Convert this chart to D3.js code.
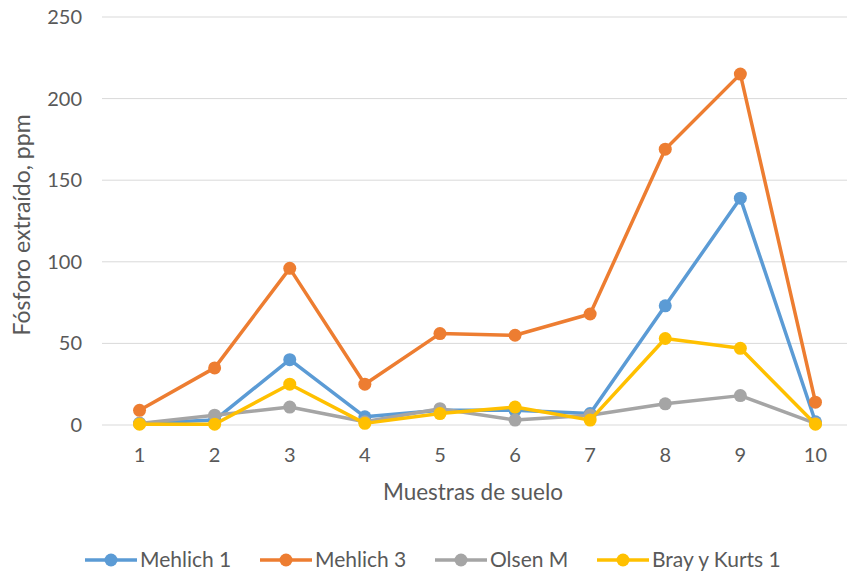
<!DOCTYPE html>
<html><head><meta charset="utf-8">
<script src="https://cdn.jsdelivr.net/npm/d3@7"></script>
<style>body{margin:0;background:#fff;} svg{display:block;}</style>
</head><body>
<svg id="c" width="847" height="575"></svg>
<script>
const categories = ["1","2","3","4","5","6","7","8","9","10"];
const mehlich1 = [1, 3, 40, 5, 9, 9, 7, 73, 139, 2];
const mehlich3 = [9, 35, 96, 25, 56, 55, 68, 169, 215, 14];
const olsenM = [1, 6, 11, 2, 10, 3, 6, 13, 18, 1];
const brayKurts1 = [0.5, 0.5, 25, 1, 7, 11, 3, 53, 47, 0.5];
const seriesNames = ["Mehlich 1", "Mehlich 3", "Olsen M", "Bray y Kurts 1"];
const yTicks = [0, 50, 100, 150, 200, 250];

const colors = ["#5B9BD5", "#ED7D31", "#A5A5A5", "#FFC000"];
const seriesData = [mehlich1, mehlich3, olsenM, brayKurts1];
const font = "Lato, 'Open Sans', sans-serif";
const textColor = "#595959";

const svg = d3.select("#c");
const mLeft = 102, mRight = 853, mTop = 17, mBottom = 425;
const x = d3.scaleBand().domain(categories).range([mLeft, mRight]).padding(0);
const y = d3.scaleLinear().domain([0, 250]).range([mBottom, mTop]);
const cx = c => x(c) + x.bandwidth() / 2;

// gridlines
svg.append("g").selectAll("line").data(yTicks).join("line")
  .attr("x1", mLeft).attr("x2", 847)
  .attr("y1", d => y(d)).attr("y2", d => y(d))
  .attr("stroke", "#d9d9d9").attr("stroke-width", 1);

// y tick labels
svg.append("g").selectAll("text").data(yTicks).join("text")
  .attr("x", 82).attr("y", d => y(d)).attr("dy", "0.35em")
  .attr("text-anchor", "end").attr("font-family", font).attr("font-size", 20)
  .attr("fill", textColor).text(d => d);

// x tick labels
svg.append("g").selectAll("text").data(categories).join("text")
  .attr("x", d => cx(d)).attr("y", 462)
  .attr("text-anchor", "middle").attr("font-family", font).attr("font-size", 20)
  .attr("fill", textColor).text(d => d);

// axis titles
svg.append("text").attr("x", 473).attr("y", 500).attr("text-anchor", "middle")
  .attr("font-family", font).attr("font-size", 22.5).attr("fill", textColor)
  .text("Muestras de suelo");
svg.append("text").attr("transform", "translate(30,225) rotate(-90)")
  .attr("text-anchor", "middle").attr("font-family", font).attr("font-size", 23)
  .attr("fill", textColor).text("Fósforo extraído, ppm");

// lines + markers
const line = d3.line().x((d, i) => cx(categories[i])).y(d => y(d));
seriesData.forEach((vals, si) => {
  const g = svg.append("g");
  g.append("path").datum(vals).attr("d", line).attr("fill", "none")
    .attr("stroke", colors[si]).attr("stroke-width", 3.5).attr("stroke-linejoin", "round");
  g.selectAll("circle").data(vals).join("circle")
    .attr("cx", (d, i) => cx(categories[i])).attr("cy", d => y(d)).attr("r", 6.5)
    .attr("fill", colors[si]);
});

// legend
const legX = [85, 260, 435, 597];
const leg = svg.append("g");
seriesNames.forEach((n, i) => {
  const g = leg.append("g").attr("transform", `translate(${legX[i]},560)`);
  g.append("line").attr("x1", 0).attr("x2", 52).attr("y1", 0).attr("y2", 0)
    .attr("stroke", colors[i]).attr("stroke-width", 3.5);
  g.append("circle").attr("cx", 26).attr("cy", 0).attr("r", 6.5).attr("fill", colors[i]);
  g.append("text").attr("x", 55).attr("y", 0).attr("dy", "0.35em")
    .attr("font-family", font).attr("font-size", 21).attr("fill", textColor).text(n);
});
</script>
</body></html>
